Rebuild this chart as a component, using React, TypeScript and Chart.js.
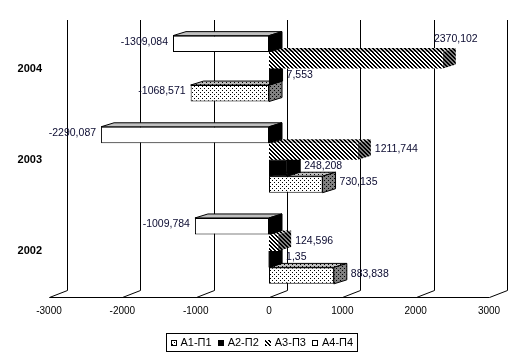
import React, { useEffect, useRef } from 'react';
import { Chart, registerables } from 'chart.js';
Chart.register(...registerables);

const categories = ['2004', '2003', '2002'];
const seriesNames = ['А1-П1', 'А2-П2', 'А3-П3', 'А4-П4'];
const a1 = [-1068.571, 730.135, 883.838];
const a2 = [7.553, 248.208, 1.35];
const a3 = [2370.102, 1211.744, 124.596];
const a4 = [-1309.084, -2290.087, -1009.784];
const xTicks = [-3000, -2000, -1000, 0, 1000, 2000, 3000];

const FONT = "'Liberation Sans', Arial, sans-serif";
const DX = 13;
const DY = 4;

type Kind = 'dots' | 'hatch' | 'solid';

function makeFill(ctx: CanvasRenderingContext2D, bg: string, kind: Kind): any {
  if (kind === 'solid') return bg;
  const c = document.createElement('canvas');
  c.width = 4;
  c.height = 4;
  const g = c.getContext('2d')!;
  g.fillStyle = bg;
  g.fillRect(0, 0, 4, 4);
  g.fillStyle = '#000';
  if (kind === 'dots') {
    g.fillRect(0, 0, 1, 1);
    g.fillRect(2, 2, 1, 1);
  } else {
    for (let i = 0; i < 4; i++) {
      g.fillRect(i, i, 1, 1);
      g.fillRect((i + 1) % 4, i, 1, 1);
    }
  }
  return ctx.createPattern(c, 'repeat');
}

function fmt(v: number) {
  return String(v).replace('.', ',');
}

export default function App() {
  const ref = useRef<HTMLCanvasElement>(null);

  useEffect(() => {
    const canvas = ref.current!;
    const ctx = canvas.getContext('2d')!;

    // series styles, index matches seriesNames (А1..А4)
    const kinds: Kind[] = ['dots', 'solid', 'hatch', 'solid'];
    const frontBg = ['#ffffff', '#000000', '#ffffff', '#ffffff'];
    const topBg = ['#c0c0c0', '#000000', '#c0c0c0', '#c0c0c0'];
    const sideBg = ['#808080', '#000000', '#808080', '#000000'];
    const bordered = [true, true, false, true];
    const values = [a1, a2, a3, a4];

    const front = values.map((_, i) => makeFill(ctx, frontBg[i], kinds[i]));
    const topF = values.map((_, i) => makeFill(ctx, topBg[i], kinds[i]));
    const sideF = values.map((_, i) => makeFill(ctx, sideBg[i], kinds[i]));

    // Chart draws dataset 0 at the top of each group: reverse (Excel order)
    const order = [3, 2, 1, 0];

    const threeD = {
      id: 'threeD',
      beforeDatasetsDraw(chart: any) {
        const c = chart.ctx as CanvasRenderingContext2D;
        const xs = chart.scales.x;
        const area = chart.chartArea;
        const floorY = Math.round(area.bottom) + 0.5;
        c.save();
        c.strokeStyle = '#000';
        c.lineWidth = 1;
        c.beginPath();
        const x0 = Math.round(xs.getPixelForValue(xTicks[0])) + 0.5;
        const x1 = Math.round(xs.getPixelForValue(xTicks[xTicks.length - 1])) + 0.5;
        c.moveTo(x0, floorY);
        c.lineTo(x1, floorY);
        for (const v of xTicks) {
          const px = Math.round(xs.getPixelForValue(v)) + 0.5;
          c.moveTo(px, floorY);
          c.lineTo(px + 18, floorY - 7);
          c.lineTo(px + 18, area.top - 3);
        }
        c.stroke();

        for (let d = chart.data.datasets.length - 1; d >= 0; d--) {
          const s = order[d];
          const meta = chart.getDatasetMeta(d);
          meta.data.forEach((el: any) => {
            const p = el.getProps(['x', 'y', 'base', 'height'], true);
            const left = Math.min(p.x, p.base);
            const right = Math.max(p.x, p.base);
            const top = p.y - p.height / 2;
            const bottom = p.y + p.height / 2;
            c.beginPath();
            c.moveTo(left, top);
            c.lineTo(left + DX, top - DY);
            c.lineTo(right + DX, top - DY);
            c.lineTo(right, top);
            c.closePath();
            c.fillStyle = topF[s];
            c.fill();
            if (bordered[s]) c.stroke();
            c.beginPath();
            c.moveTo(right, top);
            c.lineTo(right + DX, top - DY);
            c.lineTo(right + DX, bottom - DY);
            c.lineTo(right, bottom);
            c.closePath();
            c.fillStyle = sideF[s];
            c.fill();
            if (bordered[s]) c.stroke();
          });
        }
        c.restore();
      },
      afterDatasetsDraw(chart: any) {
        const c = chart.ctx as CanvasRenderingContext2D;
        const area = chart.chartArea;
        c.save();
        c.font = `10.5px ${FONT}`;
        c.fillStyle = '#0a0a30';
        c.textBaseline = 'middle';
        chart.data.datasets.forEach((ds: any, d: number) => {
          const meta = chart.getDatasetMeta(d);
          meta.data.forEach((el: any, i: number) => {
            const v = ds.data[i] as number;
            const t = fmt(v);
            const p = el.getProps(['x', 'y', 'base', 'height'], true);
            const left = Math.min(p.x, p.base);
            const right = Math.max(p.x, p.base);
            const top = p.y - p.height / 2;
            const w = c.measureText(t).width;
            if (v >= 0) {
              const tx = right + DX + 4;
              if (tx + w > area.right) {
                c.textAlign = 'center';
                c.fillText(t, right + DX, top - DY - 9);
              } else {
                c.textAlign = 'left';
                c.fillText(t, tx, p.y - 2);
              }
            } else {
              c.textAlign = 'right';
              c.fillText(t, left - 5, p.y - 2);
            }
          });
        });
        c.restore();
      },
      afterDraw(chart: any) {
        const c = chart.ctx as CanvasRenderingContext2D;
        c.save();
        c.font = `11px ${FONT}`;
        c.textBaseline = 'middle';
        c.textAlign = 'left';
        const sw = 6;
        const gap = 4;
        const itemGap = 6;
        const pad = 4;
        const widths = seriesNames.map((n) => c.measureText(n).width);
        const total = pad * 2 + widths.reduce((a, w) => a + sw + gap + w, 0) + itemGap * (seriesNames.length - 1);
        const cx = 261.5;
        const bx = Math.round(cx - total / 2) + 0.5;
        const by = 333.5;
        const bh = 18;
        c.strokeStyle = '#000';
        c.lineWidth = 1;
        c.strokeRect(bx, by, Math.round(total), bh);
        let x = bx + pad;
        const cy = by + bh / 2;
        seriesNames.forEach((n, s) => {
          const sx = Math.round(x);
          const sy = Math.round(cy - sw / 2);
          c.fillStyle = front[s];
          c.fillRect(sx, sy, sw, sw);
          if (bordered[s]) {
            c.strokeRect(sx + 0.5, sy + 0.5, sw - 1, sw - 1);
          }
          c.fillStyle = '#000';
          c.fillText(n, x + sw + gap, cy);
          x += sw + gap + widths[s] + itemGap;
        });
        c.restore();
      },
    };

    const chart = new Chart(canvas, {
      type: 'bar',
      data: {
        labels: categories,
        datasets: order.map((s) => ({
          label: seriesNames[s],
          data: values[s],
          backgroundColor: front[s],
          borderColor: '#000',
          borderWidth: bordered[s] ? 1 : 0,
          borderSkipped: false,
          categoryPercentage: 0.723,
          barPercentage: 1,
        })),
      },
      options: {
        responsive: false,
        animation: false,
        indexAxis: 'y',
        layout: { padding: { top: 23, right: 36, left: 0, bottom: 0 } },
        plugins: {
          legend: { display: false },
          tooltip: { enabled: false },
          title: { display: false },
        },
        scales: {
          x: {
            min: -3000,
            max: 3000,
            afterBuildTicks: (s: any) => {
              s.ticks = xTicks.map((v) => ({ value: v }));
            },
            grid: { display: false, drawTicks: false },
            border: { display: false },
            ticks: {
              font: { family: FONT, size: 10 },
              color: '#000',
              padding: 9,
              maxRotation: 0,
              autoSkip: false,
              callback: (v: any) => String(v),
            },
            afterFit: (s: any) => {
              s.height = 66.5;
            },
          },
          y: {
            grid: { display: false, drawTicks: false },
            border: { display: false },
            ticks: {
              font: { family: FONT, size: 11, weight: 'bold' },
              color: '#000',
              padding: 7,
            },
            afterFit: (s: any) => {
              s.width = 49;
            },
          },
        },
      } as any,
      plugins: [threeD],
    });
    return () => chart.destroy();
  }, []);

  return (
    <div style={{ position: 'absolute', left: 0, top: 0, width: 525, height: 363, background: '#fff' }}>
      <canvas ref={ref} width={525} height={363} style={{ display: 'block' }} />
    </div>
  );
}
